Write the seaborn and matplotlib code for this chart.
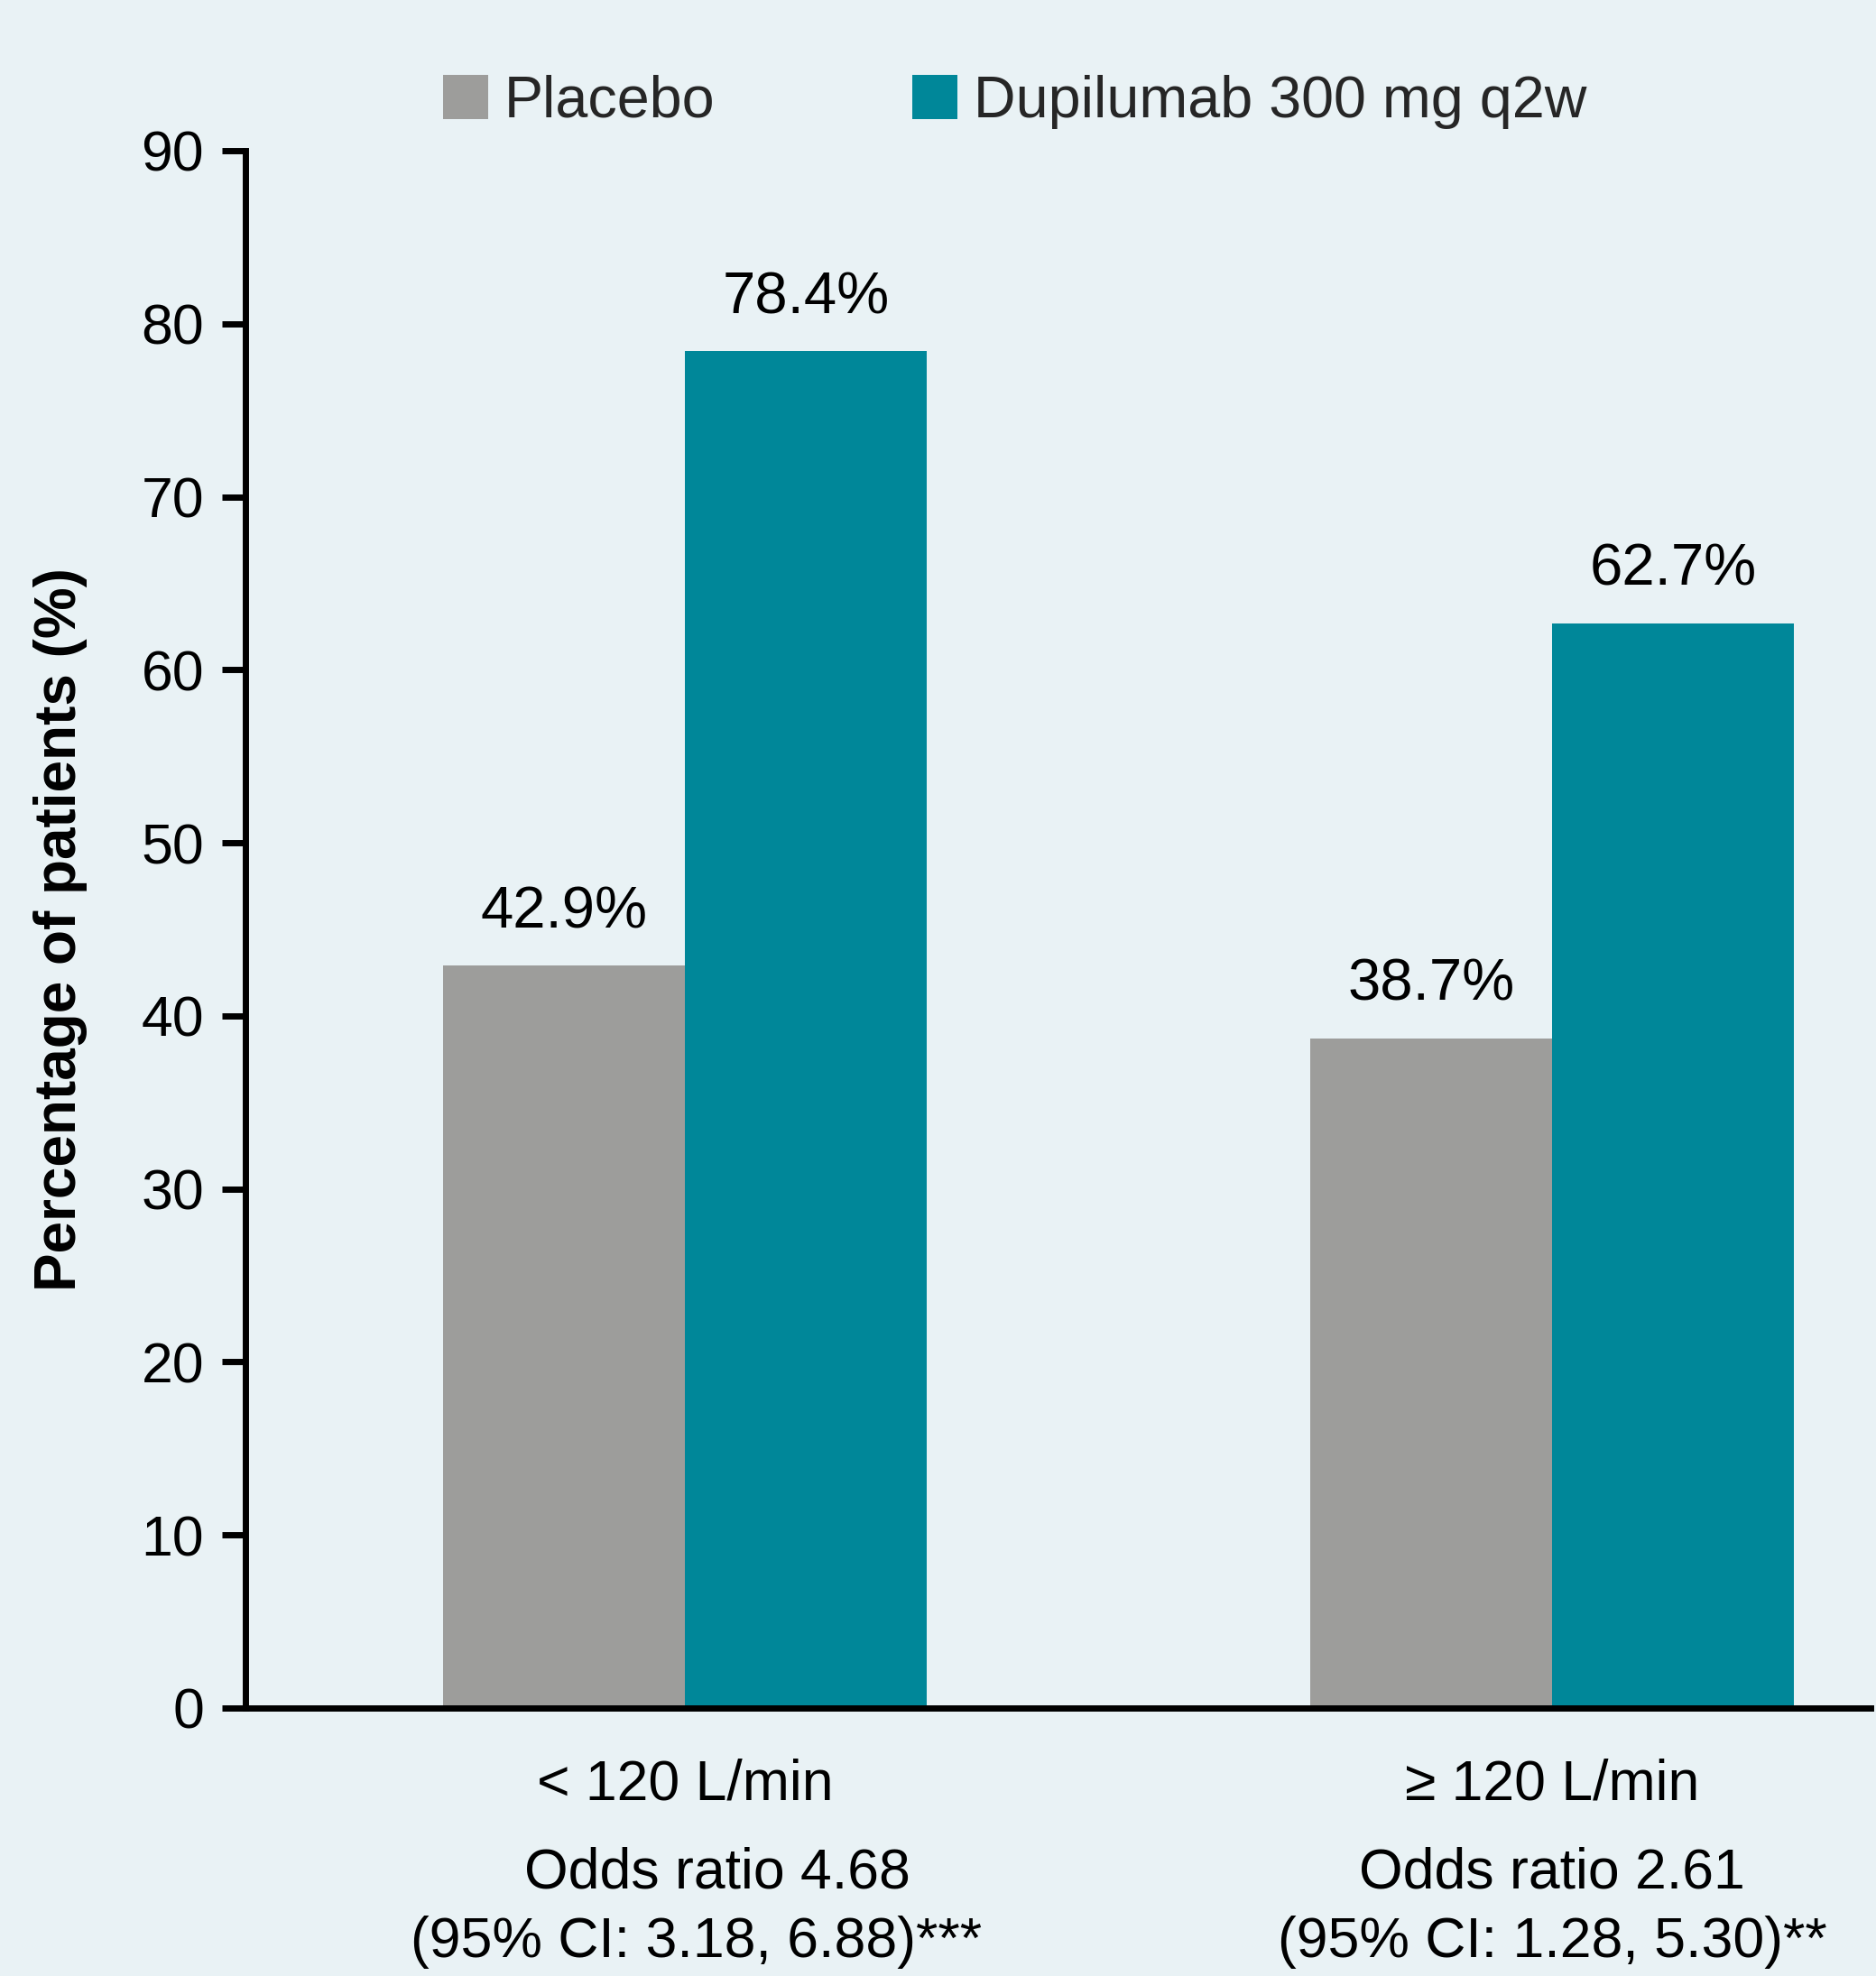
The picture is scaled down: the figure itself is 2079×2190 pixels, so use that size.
import matplotlib
matplotlib.use("Agg")
import matplotlib.pyplot as plt
import seaborn as sns
import pandas as pd

# Data
groups = ["< 120 L/min", "\u2265 120 L/min"]
treatments = ["Placebo", "Dupilumab 300 mg q2w"]
placebo_pct = [42.9, 38.7]
dupilumab_pct = [78.4, 62.7]
odds_lines = ["Odds ratio 4.68", "Odds ratio 2.61"]
ci_lines = ["(95% CI: 3.18, 6.88)***", "(95% CI: 1.28, 5.30)**"]

BG = "#e9f2f5"
GREY = "#9d9d9b"
TEAL = "#008799"

df = pd.DataFrame({
    "group": groups * 2,
    "treatment": [treatments[0]] * 2 + [treatments[1]] * 2,
    "pct": placebo_pct + dupilumab_pct,
})

sns.set_theme(style="white")
plt.rcParams["font.family"] = ["Liberation Sans", "DejaVu Sans"]

FS = 45

fig = plt.figure(figsize=(20.79, 21.9), dpi=100, facecolor=BG)
ax = fig.add_axes([272 / 2079, 1 - 1893 / 2190, 1801 / 2079, (1893 - 167) / 2190])
ax.set_facecolor(BG)

sns.barplot(data=df, x="group", y="pct", hue="treatment", order=groups,
            hue_order=treatments, palette=[GREY, TEAL], saturation=1,
            width=0.558, linewidth=0, ax=ax, legend=True)

ax.set_ylim(0, 90)
ax.set_xlim(-0.507, 1.367)
ax.set_yticks(range(0, 91, 10))

for s in ["top", "right"]:
    ax.spines[s].set_visible(False)
for s in ["left", "bottom"]:
    ax.spines[s].set_linewidth(5)
    ax.spines[s].set_color("black")

ax.tick_params(axis="y", length=19, width=5, pad=14, labelsize=FS, color="black",
               left=True, labelcolor="black")
ax.tick_params(axis="x", length=0, pad=40, labelsize=FS, labelcolor="black")
ax.set_xlabel("")
ax.set_ylabel("Percentage of patients (%)", fontsize=46, fontweight="bold",
              color="black")
ax.yaxis.set_label_coords(-0.097, 0.5)

# Value labels above each bar
for cont in ax.containers:
    vals = [b.get_height() for b in cont]
    ax.bar_label(cont, labels=[f"{v:.1f}%" for v in vals], padding=21,
                 fontsize=47, color="black")

# Odds ratio annotations beneath the category labels
odds_offsets = [26, 0]
ci_offsets = [9, 0]
for i in range(len(groups)):
    ax.annotate(odds_lines[i], xy=(i, 0), xycoords=("data", "axes fraction"),
                xytext=(odds_offsets[i], -132), textcoords="offset points",
                ha="center", va="center", fontsize=FS, color="black",
                annotation_clip=False)
    ax.annotate(ci_lines[i], xy=(i, 0), xycoords=("data", "axes fraction"),
                xytext=(ci_offsets[i], -187), textcoords="offset points",
                ha="center", va="center", fontsize=FS, color="black",
                annotation_clip=False)

# Legend across the top
handles, labels = ax.get_legend_handles_labels()
ax.legend(handles, labels, loc="center left",
          bbox_to_anchor=(491 / 2079, 1 - 113 / 2190),
          bbox_transform=fig.transFigure, ncol=2, frameon=False,
          fontsize=46.5, handlelength=0.77, handleheight=0.77,
          handletextpad=0.28, columnspacing=3.39, borderpad=0,
          borderaxespad=0)

fig.savefig("out.png", dpi=100, facecolor=BG)
